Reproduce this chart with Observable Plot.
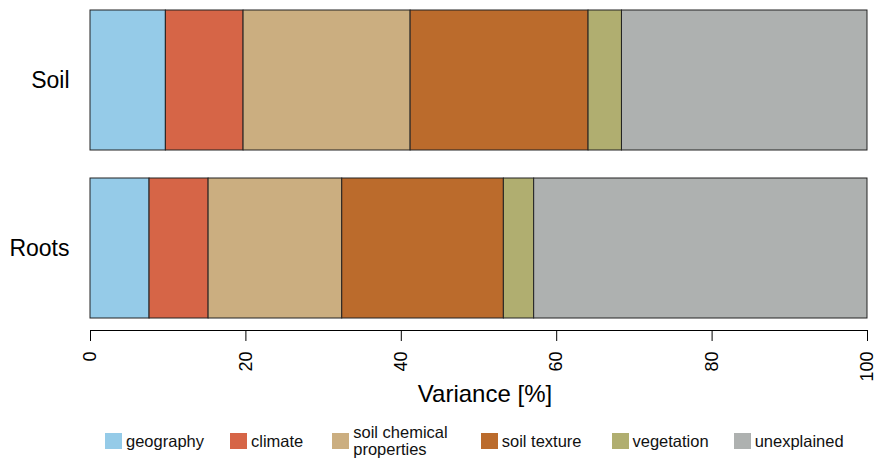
<!DOCTYPE html>
<html>
<head>
<meta charset="utf-8">
<script src="https://cdn.jsdelivr.net/npm/d3@7"></script>
<script src="https://cdn.jsdelivr.net/npm/@observablehq/plot@0.6"></script>
<style>
  html, body { margin: 0; padding: 0; background: #fff; }
  body { width: 877px; height: 458px; overflow: hidden; font-family: "Liberation Sans", Arial, sans-serif; }
  #legend { display: flex; align-items: center; justify-content: flex-start; padding-left: 105px; padding-top: 1px; font-size: 16.5px; color: #111; }
  .item { display: flex; align-items: center; }
  .sw { width: 17px; height: 16px; margin-right: 4px; flex: none; }
  .lab { line-height: 17px; }
</style>
</head>
<body>
<div id="chart"></div>
<div id="legend"></div>
<script>
const groups = ["Soil", "Roots"];
const components = ["geography", "climate", "soil chemical properties", "soil texture", "vegetation", "unexplained"];
const soilValues = [9.7, 10.0, 21.5, 22.9, 4.3, 31.6];
const rootsValues = [7.6, 7.6, 17.2, 20.8, 3.9, 42.9];
const colors = ["#95cbe8", "#d66547", "#cbae80", "#bb6b2c", "#b0ae70", "#aeb1b0"];
const xTicks = [0, 20, 40, 60, 80, 100];

const data = [];
components.forEach((c, i) => data.push({group: "Soil", component: c, value: soilValues[i]}));
components.forEach((c, i) => data.push({group: "Roots", component: c, value: rootsValues[i]}));

const chart = Plot.plot({
  width: 877,
  height: 423,
  marginLeft: 90,
  marginRight: 10,
  marginTop: 10,
  marginBottom: 93,
  style: {fontFamily: "'Liberation Sans', Arial, sans-serif", color: "#000", background: "#fff"},
  x: {domain: [0, 100], ticks: xTicks},
  y: {domain: groups, paddingInner: 28 / 168, paddingOuter: 0, insetBottom: 12},
  color: {domain: components, range: colors},
  marks: [
    Plot.barX(data, Plot.stackX({y: "group", x: "value", fill: "component", order: null, stroke: "#222", strokeWidth: 1})),
    Plot.frame({anchor: "bottom", stroke: "#000", strokeWidth: 1}),
    Plot.axisX({ticks: xTicks, tickSize: 11, tickRotate: -90, tickPadding: 10, fontSize: 18, label: null, stroke: "#000", strokeWidth: 1}),
    Plot.axisY({tickSize: 0, tickPadding: 21, fontSize: 23, label: null}),
    Plot.text(["Variance [%]"], {frameAnchor: "bottom", dy: 71, dx: 6, fontSize: 24, fill: "#000"})
  ]
});
document.getElementById("chart").appendChild(chart);

const legend = document.getElementById("legend");
const gaps = [26, 29, 33, 30, 25, 0];
components.forEach((c, i) => {
  const it = document.createElement("div");
  it.className = "item";
  it.style.marginRight = gaps[i] + "px";
  const sw = document.createElement("div");
  sw.className = "sw";
  sw.style.background = colors[i];
  const lab = document.createElement("div");
  lab.className = "lab";
  if (c === "soil chemical properties") {
    lab.innerHTML = "soil chemical<br>properties";
  } else {
    lab.textContent = c;
  }
  it.appendChild(sw);
  it.appendChild(lab);
  legend.appendChild(it);
});
</script>
</body>
</html>
